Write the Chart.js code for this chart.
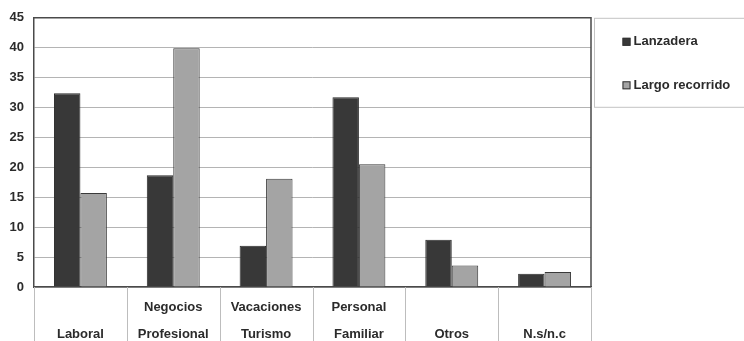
<!DOCTYPE html>
<html>
<head>
<meta charset="utf-8">
<script src="https://cdn.jsdelivr.net/npm/chart.js@4/dist/chart.umd.min.js"></script>
<style>
  html, body { margin: 0; padding: 0; background: #fff; }
  #wrap { width: 744px; height: 341px; position: relative; }
</style>
</head>
<body>
<div id="wrap"><canvas id="c" width="744" height="341"></canvas></div>
<script>
// Motivo del viaje: Lanzadera vs Largo recorrido (%)
const categories = [
  ['', 'Laboral'],
  ['Negocios', 'Profesional'],
  ['Vacaciones', 'Turismo'],
  ['Personal', 'Familiar'],
  ['', 'Otros'],
  ['', 'N.s/n.c']
];
const lanzadera = [32.4, 18.7, 6.9, 31.7, 7.9, 2.2];
const largoRecorrido = [15.7, 39.9, 18.1, 20.5, 3.6, 2.5];
const yTicks = [0, 5, 10, 15, 20, 25, 30, 35, 40, 45];

const FONT = 'Liberation Sans, Arial, sans-serif';
const TEXT = '#2b2b2b';

// Frame around the plot, category separators under the axis, and the boxed legend
const decorations = {
  id: 'decorations',
  afterDraw(chart) {
    const { ctx, chartArea: a, scales: { x } } = chart;
    ctx.save();
    // top and right edges of the plot frame
    ctx.strokeStyle = '#4a4a4a';
    ctx.lineWidth = 1.5;
    ctx.beginPath();
    ctx.moveTo(a.left, a.top);
    ctx.lineTo(a.right, a.top);
    ctx.lineTo(a.right, a.bottom);
    ctx.stroke();

    // separators between category cells
    ctx.strokeStyle = '#bdbdbd';
    ctx.lineWidth = 1;
    const n = chart.data.labels.length;
    const half = (x.getPixelForValue(1) - x.getPixelForValue(0)) / 2;
    for (let i = 0; i <= n; i++) {
      const px = Math.round(x.getPixelForValue(i) - half) + 0.5;
      ctx.beginPath();
      ctx.moveTo(px, a.bottom);
      ctx.lineTo(px, chart.height);
      ctx.stroke();
    }

    // legend box
    const bx = a.right + 3.5, by = a.top + 0.5, bw = 170, bh = 89;
    ctx.strokeStyle = '#c4c4c4';
    ctx.strokeRect(bx, by, bw, bh);
    ctx.font = 'bold 13px ' + FONT;
    ctx.textBaseline = 'middle';
    chart.data.datasets.forEach((ds, i) => {
      const cy = by + 23.5 + i * 43.5;
      ctx.fillStyle = ds.backgroundColor;
      ctx.fillRect(bx + 28, cy - 4, 8, 8);
      ctx.strokeStyle = '#333';
      ctx.strokeRect(bx + 28.5, cy - 3.5, 7, 7);
      ctx.fillStyle = TEXT;
      ctx.fillText(ds.label, bx + 39, cy);
    });
    ctx.restore();
  }
};

new Chart(document.getElementById('c'), {
  type: 'bar',
  data: {
    labels: categories,
    datasets: [
      {
        label: 'Lanzadera',
        data: lanzadera,
        backgroundColor: '#383838',
        borderColor: '#2a2a2a',
        borderWidth: 1
      },
      {
        label: 'Largo recorrido',
        data: largoRecorrido,
        backgroundColor: '#a4a4a4',
        borderColor: '#3a3a3a',
        borderWidth: 1
      }
    ]
  },
  options: {
    responsive: false,
    animation: false,
    layout: { padding: { top: 16, right: 153, left: 0, bottom: 0 } },
    plugins: {
      legend: { display: false },
      tooltip: { enabled: false }
    },
    datasets: {
      bar: { categoryPercentage: 0.57, barPercentage: 1.0 }
    },
    scales: {
      x: {
        offset: true,
        grid: { display: false },
        border: { color: '#4a4a4a', width: 1.5 },
        ticks: {
          color: TEXT,
          font: { family: FONT, weight: 'bold', size: 13, lineHeight: 2.08 },
          padding: -1,
          maxRotation: 0,
          autoSkip: false
        },
        afterFit(scale) { scale.height = 54; }
      },
      y: {
        min: 0,
        max: 45,
        afterBuildTicks(scale) { scale.ticks = yTicks.map(v => ({ value: v })); },
        grid: { color: '#b4b4b4', lineWidth: 1, drawTicks: false },
        border: { color: '#4a4a4a', width: 1.5 },
        ticks: {
          color: TEXT,
          font: { family: FONT, weight: 'bold', size: 13 },
          padding: 10
        },
        afterFit(scale) { scale.width = 34; }
      }
    }
  },
  plugins: [decorations]
});
</script>
</body>
</html>
